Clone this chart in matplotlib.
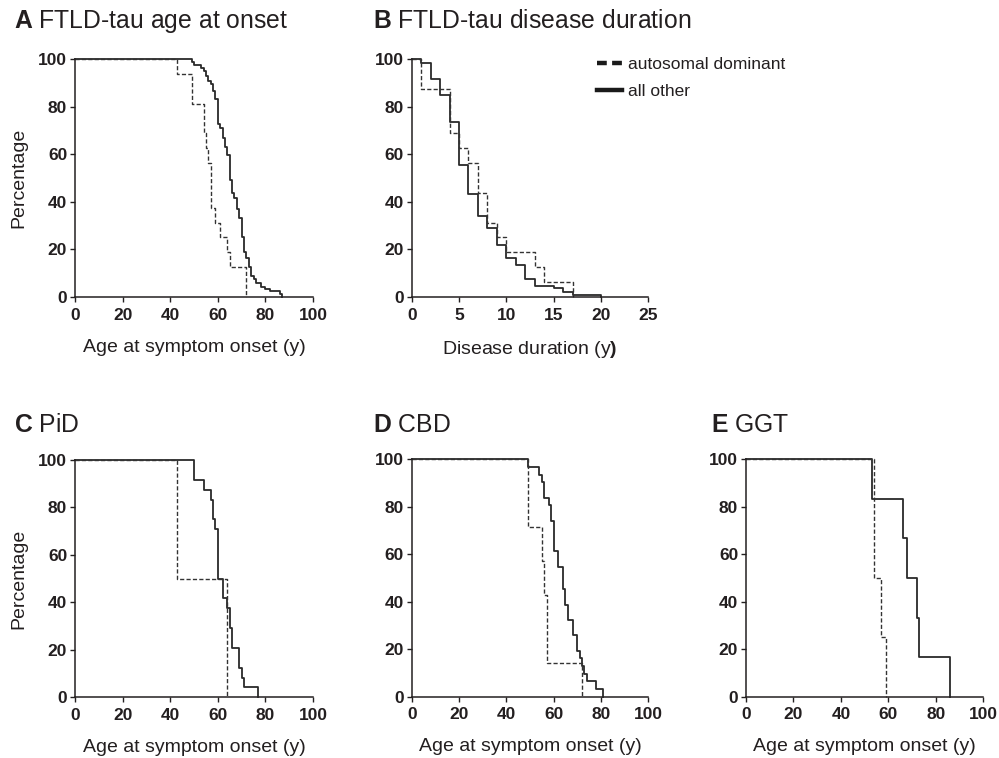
import matplotlib
matplotlib.use("Agg")
import matplotlib.pyplot as plt
from matplotlib.lines import Line2D

plt.rcParams['font.family'] = ['Liberation Sans', 'DejaVu Sans']
plt.rcParams['mathtext.fontset'] = 'custom'
plt.rcParams['mathtext.rm'] = 'Liberation Sans'
plt.rcParams['mathtext.bf'] = 'Liberation Sans:bold'

# --- data (Kaplan-Meier steps, percentage remaining) ---
# A: age at onset, FTLD-tau
a_ad_age = [43, 49, 54, 55, 56, 57, 59, 61, 64, 65, 72]
a_ad_pct = [93.75, 81.25, 68.75, 62.5, 56.25, 37.5, 31.25, 25, 18.75, 12.5, 0]
a_oth_age = [49, 50, 53, 54, 55, 56, 57, 58, 59, 60, 61, 62, 63, 64, 65, 66, 67, 68,
             69, 70, 71, 72, 73, 74, 75, 76, 78, 80, 82, 86, 87]
a_oth_pct = [98.6, 97.3, 96.2, 94.8, 92.7, 90.6, 89.6, 86.4, 83.1, 72.8, 70.9, 66.7,
             63.2, 59.7, 49.2, 43.5, 41.4, 36.8, 33.0, 25.3, 19.0, 16.2, 12.4, 8.7,
             7.7, 6.0, 4.2, 3.5, 2.4, 1.4, 0]

# B: disease duration, FTLD-tau
b_ad_dur = [1, 4, 5, 6, 7, 8, 9, 10, 13, 14, 17]
b_ad_pct = [87.5, 68.75, 62.5, 56.25, 43.75, 31.25, 25, 18.75, 12.5, 6.25, 0]
b_oth_dur = [1, 2, 3, 4, 5, 6, 7, 8, 9, 10, 11, 12, 13, 15, 16, 17, 20]
b_oth_pct = [98.2, 91.6, 85.0, 73.7, 55.6, 43.3, 34.1, 29.2, 21.8, 16.2, 13.3, 7.7,
             4.6, 3.9, 2.1, 1.0, 0]

# C: PiD
c_ad_age = [43, 64]
c_ad_pct = [50, 0]
c_oth_age = [50, 54, 57, 58, 59, 60, 62, 64, 65, 66, 69, 70, 71, 77]
c_oth_pct = [91.67, 87.5, 83.33, 75, 70.83, 50, 41.67, 37.5, 29.17, 20.83, 12.5,
             8.33, 4.17, 0]

# D: CBD
d_ad_age = [49, 55, 56, 57, 72]
d_ad_pct = [71.43, 57.14, 42.86, 14.29, 0]
d_oth_age = [49, 54, 55, 56, 58, 59, 60, 62, 64, 65, 66, 68, 70, 71, 72, 73, 74, 78, 81]
d_oth_pct = [96.77, 93.55, 90.32, 83.87, 80.65, 74.19, 61.29, 54.84, 45.16, 38.71,
             32.26, 25.81, 19.35, 16.13, 12.90, 9.68, 6.45, 3.23, 0]

# E: GGT
e_ad_age = [54, 57, 59]
e_ad_pct = [50, 25, 0]
e_oth_age = [53, 66, 68, 72, 73, 86]
e_oth_pct = [83.33, 66.67, 50, 33.33, 16.67, 0]

W, H = 999, 758
INK = '#231f20'


def rect(l, t, w, h):
    return [l / W, 1 - (t + h) / H, w / W, h / H]


def km(ax, t, p, **kw):
    # survival curve starts at 100% at time 0
    ax.step([0] + list(t), [100] + list(p), where='post', clip_on=False, **kw)


def style(ax, xmax, xstep):
    for s in ['top', 'right']:
        ax.spines[s].set_visible(False)
    for s in ['left', 'bottom']:
        ax.spines[s].set_linewidth(1.1)
        ax.spines[s].set_color(INK)
    ax.set_xlim(0, xmax)
    ax.set_ylim(0, 100)
    xt = list(range(0, xmax + 1, xstep))
    yt = list(range(0, 101, 20))
    ax.set_xticks(xt, [str(v) for v in xt], fontweight='bold')
    ax.set_yticks(yt, [str(v) for v in yt], fontweight='bold')
    ax.tick_params(direction='out', length=3.6, width=1.0, color=INK,
                   labelsize=12.5, labelcolor=INK)
    ax.tick_params(axis='x', pad=4)
    ax.tick_params(axis='y', pad=2)


solid_kw = dict(color='#2a2a2a', lw=1.3)
dash_kw = dict(color='#333333', lw=1.0, dashes=(3, 1.6))

fig = plt.figure(figsize=(W / 100, H / 100), dpi=100)

panels = [
    ('A', 'FTLD-tau age at onset', rect(75, 59, 238, 238), 14, 28,
     a_ad_age, a_ad_pct, a_oth_age, a_oth_pct, 100, 20, 'Age at symptom onset (y)'),
    ('B', 'FTLD-tau disease duration', rect(411.7, 59, 236.6, 238), 373, 28,
     b_ad_dur, b_ad_pct, b_oth_dur, b_oth_pct, 25, 5, r'Disease duration (y$\mathbf{)}$'),
    ('C', 'PiD', rect(75, 460, 238, 237.3), 14, 432,
     c_ad_age, c_ad_pct, c_oth_age, c_oth_pct, 100, 20, 'Age at symptom onset (y)'),
    ('D', 'CBD', rect(411.7, 459.3, 236.6, 237.4), 373, 432,
     d_ad_age, d_ad_pct, d_oth_age, d_oth_pct, 100, 20, 'Age at symptom onset (y)'),
    ('E', 'GGT', rect(746, 459.3, 237.3, 237.4), 711, 432,
     e_ad_age, e_ad_pct, e_oth_age, e_oth_pct, 100, 20, 'Age at symptom onset (y)'),
]

axes = {}
for letter, title, r, tx, ty, ad_t, ad_p, ot_t, ot_p, xmax, xstep, xlabel in panels:
    ax = fig.add_axes(r)
    km(ax, ot_t, ot_p, **solid_kw)
    km(ax, ad_t, ad_p, **dash_kw)
    style(ax, xmax, xstep)
    ax.set_xlabel(xlabel, fontsize=14, color=INK, labelpad=11.5)
    fig.text(tx / W, 1 - ty / H, r'$\mathbf{%s}$ %s' % (letter, title),
             fontsize=17.8, color=INK, va='baseline', ha='left')
    axes[letter] = ax

# y labels only on the left column
for letter in ['A', 'C']:
    pos = axes[letter].get_position()
    fig.text(18.5 / W, pos.y0 + pos.height / 2, 'Percentage', rotation=90,
             fontsize=14, color=INK, ha='center', va='center')

# legend in panel B
handles = [Line2D([], [], color='#1a1a1a', lw=3.2, dashes=(2.2, 1.2)),
           Line2D([], [], color='#1a1a1a', lw=3.2)]
axes['B'].legend(handles, ['autosomal dominant', 'all other'], loc='upper left',
                 bbox_to_anchor=((597 - 411.7) / 236.6, (297 - 57) / 238),
                 frameon=False, fontsize=12.5, handlelength=1.45, handletextpad=0.35,
                 borderpad=0, borderaxespad=0, labelspacing=0.7, labelcolor=INK)

fig.savefig('out.png', dpi=100)
